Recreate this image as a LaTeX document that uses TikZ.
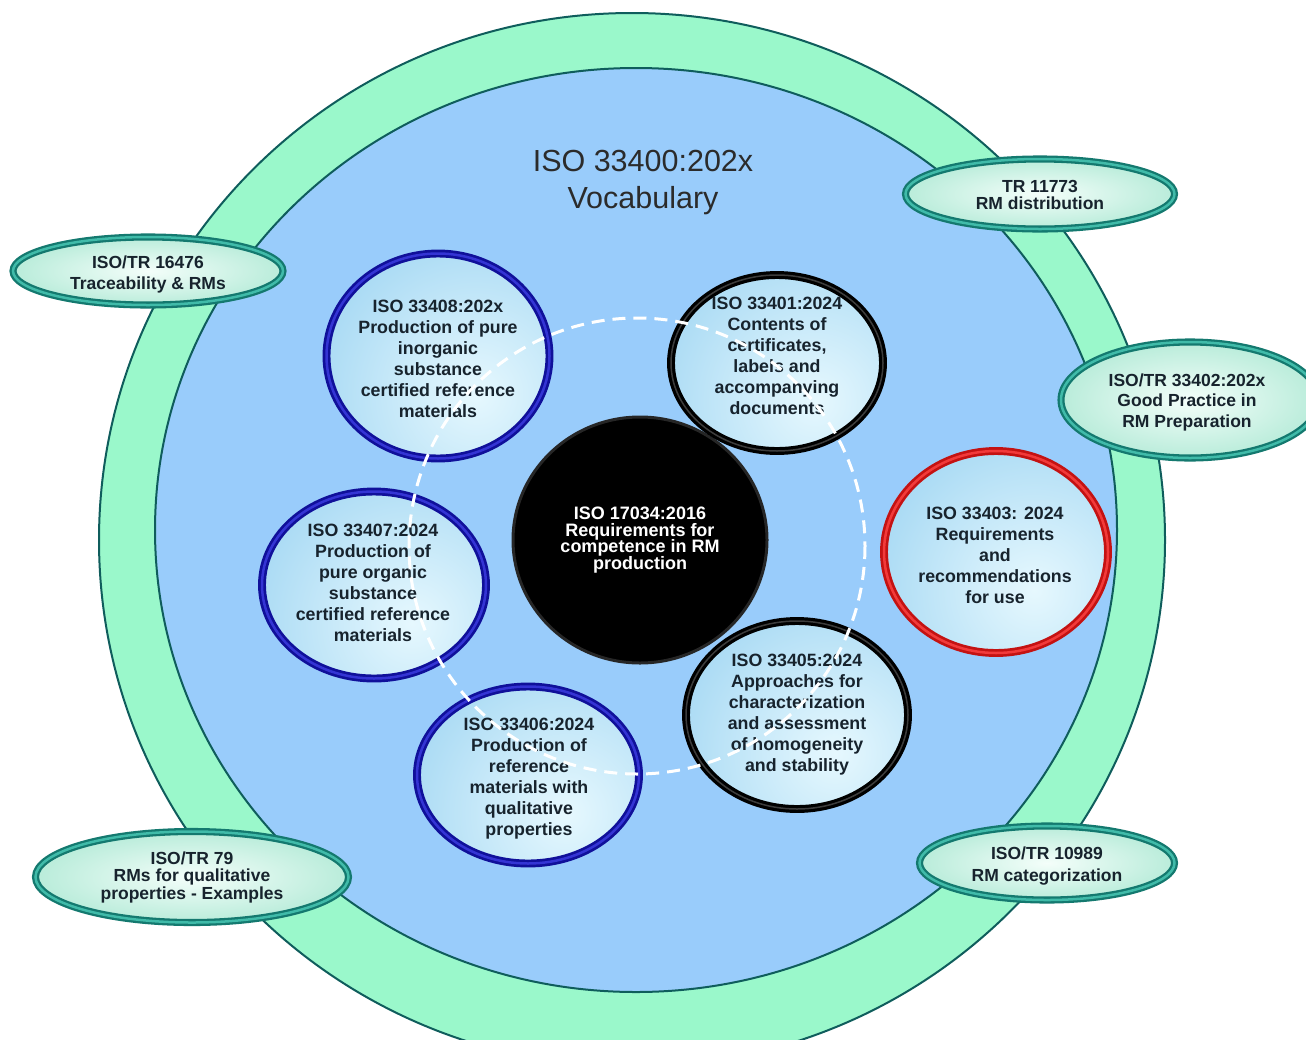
\documentclass[tikz,border=0pt]{standalone}
\usepackage{fontspec}
\setmainfont{Liberation Sans}
\usetikzlibrary{shapes.geometric}

\definecolor{ringgreen}{HTML}{9AF8CB}
\definecolor{ringline}{HTML}{0F5D5C}
\definecolor{innerblue}{HTML}{99CCFB}
\definecolor{glassbase}{HTML}{7AC3EC}
\definecolor{glassglow}{HTML}{E6F8FE}
\definecolor{navyedge}{HTML}{10109A}
\definecolor{navymid}{HTML}{3434D4}
\definecolor{rededge}{HTML}{C41212}
\definecolor{redmid}{HTML}{F23A3A}
\definecolor{blackmid}{HTML}{3C3C3C}
\definecolor{tealedge}{HTML}{14796F}
\definecolor{tealmid}{HTML}{40BBA9}
\definecolor{mintin}{HTML}{F4FEFA}
\definecolor{mintout}{HTML}{B9ECDA}
\definecolor{labelink}{HTML}{17232D}
\definecolor{titleink}{HTML}{2B2B2B}

\tikzset{
  glass/.style={ellipse, inner sep=0pt, outer sep=0pt, fill=glassbase,
    path picture={\shade[inner color=glassglow, outer color=glassbase]
      ([shift={(38,38)}]path picture bounding box.center) circle[radius=290];}},
  rimblue/.style={draw=navyedge, double=navymid, double distance=2.5pt, line width=2.7pt},
  rimblack/.style={draw=black, double=blackmid, double distance=1.5pt, line width=3.2pt},
  rimred/.style={draw=rededge, double=redmid, double distance=2.5pt, line width=2.7pt},
  badge/.style={ellipse, inner sep=0pt, inner color=mintin, outer color=mintout,
    draw=tealedge, double=tealmid, double distance=2.5pt, line width=2.3pt},
  ctext/.style={align=center, text=labelink, inner sep=0pt,
    font=\fontsize{17.8}{21}\selectfont\bfseries},
  btext/.style={ctext, font=\fontsize{17.5}{#1}\selectfont\bfseries},
}

\begin{document}
\begin{tikzpicture}[x=1pt, y=-1pt]
\useasboundingbox (0,0) rectangle (1306,1039);
\fill[white] (0,0) rectangle (1306,1039);
\clip (0,0) rectangle (1306,1039);

% outer green ring and inner blue field
\filldraw[fill=ringgreen, draw=ringline, line width=2pt]
  (632,540) ellipse [x radius=533, y radius=527];
\filldraw[fill=innerblue, draw=ringline, line width=2pt]
  (636,530) ellipse [x radius=481, y radius=462];

% title
\node[align=center, text=titleink, inner sep=0pt,
      font=\fontsize{30.5}{37}\selectfont] (title) at (643,183)
  {ISO 33400:202x\\Vocabulary};

% central standard
\node[ellipse, fill=black, draw={black!85!white}, line width=3pt,
      minimum width=254, minimum height=246, inner sep=0pt] (core) at (640,540) {};
\node[align=center, text=white, inner sep=0pt,
      font=\fontsize{18}{16.8}\selectfont\bfseries] (tcore) at (640,540)
  {ISO 17034:2016\\Requirements for\\competence in RM\\production};

% satellite standards
\node[glass, rimblue,  minimum width=223, minimum height=205] (c408) at (438,356) {};
\node[glass, rimblack, minimum width=212, minimum height=176] (c401) at (777,363) {};
\node[glass, rimred,   minimum width=224, minimum height=202] (c403) at (996,552) {};
\node[glass, rimblack, minimum width=222, minimum height=188] (c405) at (797,715) {};
\node[glass, rimblue,  minimum width=224, minimum height=187] (c407) at (374,585) {};
\node[glass, rimblue,  minimum width=222, minimum height=177] (c406) at (528,775) {};

\node[ctext] (t408) at (438,359)
  {ISO 33408:202x\\Production of pure\\inorganic\\substance\\certified reference\\materials};
\node[ctext] (t401) at (777,356)
  {ISO 33401:2024\\Contents of\\certificates,\\labels and\\accompanying\\documents};
\node[ctext] (t403) at (995,555)
  {ISO 33403: 2024\\Requirements\\and\\recommendations\\for use};
\node[ctext] (t405) at (797,715)
  {ISO 33405:2024\\Approaches for\\characterization\\and assessment\\of homogeneity\\and stability};
\node[ctext] (t407) at (373,583)
  {ISO 33407:2024\\Production of\\pure organic\\substance\\certified reference\\materials};
\node[ctext] (t406) at (529,779)
  {ISO 33406:2024\\Production of\\reference\\materials with\\qualitative\\properties};

% dashed ring linking the production standards
\coordinate (hub) at (637,546);
\draw[white, line width=3pt, dash pattern=on 13pt off 8pt] (hub) circle [radius=228];

% technical reports on the rim
\node[badge, minimum width=269, minimum height=70] (b11773) at (1040,194) {};
\node[btext=17] (tb11773) at (1040,195) {TR 11773\\RM distribution};

\node[badge, minimum width=270, minimum height=68] (b16476) at (148,271) {};
\node[btext=21] (tb16476) at (148,274) {ISO/TR 16476\\Traceability \& RMs};

\node[badge, minimum width=258, minimum height=116] (b33402) at (1190,400) {};
\node[btext=20.5] (tb33402) at (1187,402) {ISO/TR 33402:202x\\Good Practice in\\RM Preparation};

\node[badge, minimum width=313, minimum height=91] (b79) at (192,877) {};
\node[btext=17.5] (tb79) at (192,877) {ISO/TR 79\\RMs for qualitative\\properties - Examples};

\node[badge, minimum width=255, minimum height=74] (b10989) at (1047,863) {};
\node[btext=22] (tb10989) at (1047,866) {ISO/TR 10989\\RM categorization};
\end{tikzpicture}
\end{document}
